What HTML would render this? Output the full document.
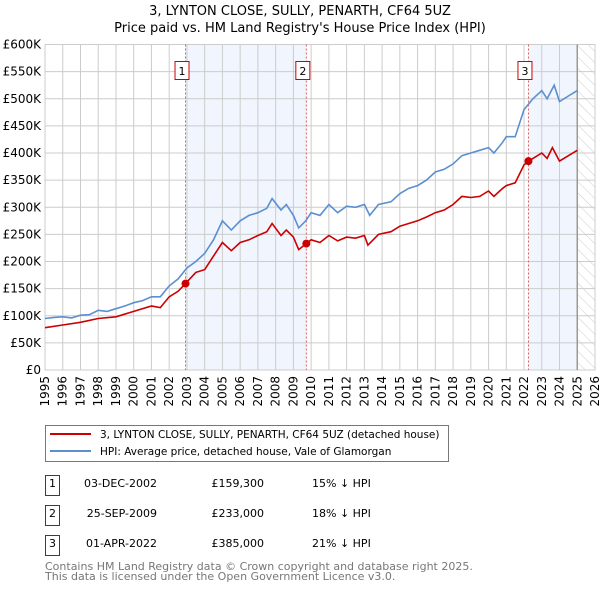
<!DOCTYPE html>
<html><head><meta charset="utf-8"><style>
body{margin:0;background:#fff;width:600px;height:590px;overflow:hidden;font-family:"DejaVu Sans","Liberation Sans",sans-serif}
svg text{font-family:"DejaVu Sans","Liberation Sans",sans-serif}
</style></head><body>
<svg id="c" width="600" height="590">
<defs><pattern id="hatch" width="8" height="8" patternUnits="userSpaceOnUse" patternTransform="rotate(-45)"><line x1="0" y1="0" x2="0" y2="8" stroke="#ccc" stroke-width="1"/></pattern></defs>
<text x="300" y="15" text-anchor="middle" font-size="13">3, LYNTON CLOSE, SULLY, PENARTH, CF64 5UZ</text>
<text x="300" y="32" text-anchor="middle" font-size="13">Price paid vs. HM Land Registry's House Price Index (HPI)</text>
<g id="plot"></g>
<g>
<rect x="45.5" y="425.5" width="403" height="36" fill="#fff" stroke="#777"/>
<line x1="50" y1="434" x2="91" y2="434" stroke="#cc0000" stroke-width="2"/>
<text x="100" y="438" font-size="10.5">3, LYNTON CLOSE, SULLY, PENARTH, CF64 5UZ (detached house)</text>
<line x1="50" y1="451" x2="91" y2="451" stroke="#5b8fd0" stroke-width="2"/>
<text x="100" y="455" font-size="10.5">HPI: Average price, detached house, Vale of Glamorgan</text>
</g>
<g font-size="11">
<rect x="45.5" y="475.5" width="14" height="20" fill="#fff" stroke="#cc0000"/><text x="52.5" y="487" text-anchor="middle">1</text>
<text x="157" y="487" text-anchor="end">03-DEC-2002</text><text x="264" y="487" text-anchor="end">£159,300</text><text x="312" y="487">15% ↓ HPI</text>
<rect x="45.5" y="505.5" width="14" height="20" fill="#fff" stroke="#cc0000"/><text x="52.5" y="517" text-anchor="middle">2</text>
<text x="157" y="517" text-anchor="end">25-SEP-2009</text><text x="264" y="517" text-anchor="end">£233,000</text><text x="312" y="517">18% ↓ HPI</text>
<rect x="45.5" y="535.5" width="14" height="20" fill="#fff" stroke="#cc0000"/><text x="52.5" y="547" text-anchor="middle">3</text>
<text x="157" y="547" text-anchor="end">01-APR-2022</text><text x="264" y="547" text-anchor="end">£385,000</text><text x="312" y="547">21% ↓ HPI</text>
</g>
<text x="45" y="570" font-size="11" fill="#777">Contains HM Land Registry data © Crown copyright and database right 2025.</text>
<text x="45" y="580" font-size="11" fill="#777">This data is licensed under the Open Government Licence v3.0.</text>
</svg>
<script>
const hpiX=[1995,1995.5,1996,1996.5,1997,1997.5,1998,1998.5,1999,1999.5,2000,2000.5,2001,2001.5,2002,2002.5,2003,2003.5,2004,2004.5,2005,2005.5,2006,2006.5,2007,2007.5,2007.8,2008.3,2008.6,2009,2009.3,2009.7,2010,2010.5,2011,2011.5,2012,2012.5,2013,2013.3,2013.8,2014.5,2015,2015.5,2016,2016.5,2017,2017.5,2018,2018.5,2019,2019.5,2020,2020.3,2020.8,2021,2021.5,2022,2022.5,2023,2023.3,2023.7,2024,2024.5,2025];
const hpiY=[95,97,98,96,101,102,110,108,113,118,124,128,135,135,155,168,188,200,215,240,275,258,275,285,290,298,316,295,305,285,262,275,290,285,305,290,302,300,305,285,305,310,325,335,340,350,365,370,380,395,400,405,410,400,420,430,430,480,500,515,500,525,495,505,515];
const ppX=[1995,1996,1997,1998,1999,2000,2001,2001.5,2002,2002.5,2002.92,2003.5,2004,2004.5,2005,2005.5,2006,2006.5,2007,2007.5,2007.8,2008.3,2008.6,2009,2009.3,2009.73,2010,2010.5,2011,2011.5,2012,2012.5,2013,2013.2,2013.8,2014.5,2015,2015.5,2016,2016.5,2017,2017.5,2018,2018.5,2019,2019.5,2020,2020.3,2020.8,2021,2021.5,2022,2022.25,2022.5,2023,2023.3,2023.6,2024,2024.5,2025];
const ppY=[78,83,88,95,98,108,118,115,135,145,159.3,180,185,210,235,220,235,240,248,255,270,248,258,245,222,233,240,235,248,238,245,243,248,230,250,255,265,270,275,282,290,295,305,320,318,320,330,320,335,340,345,378,385,390,400,390,410,385,395,405];
const saleX=[2002.92,2009.73,2022.25];
const saleY=[159.3,233,385];
const saleLabels=["1","2","3"];
const yTicks=[0,50,100,150,200,250,300,350,400,450,500,550,600];
const yTickLabels=["£0","£50K","£100K","£150K","£200K","£250K","£300K","£350K","£400K","£450K","£500K","£550K","£600K"];
const xTicks=[1995,1996,1997,1998,1999,2000,2001,2002,2003,2004,2005,2006,2007,2008,2009,2010,2011,2012,2013,2014,2015,2016,2017,2018,2019,2020,2021,2022,2023,2024,2025,2026];

const L=45,R=595,T=44.5,B=370;
const sx=v=>L+(v-1995)/(2026-1995)*(R-L);
const sy=v=>B-v/600*(B-T);
const NS='http://www.w3.org/2000/svg';
const g=document.getElementById('plot');
function mk(t,a,p){const e=document.createElementNS(NS,t);for(const k in a)e.setAttribute(k,a[k]);(p||g).appendChild(e);return e;}
let e=mk('rect',{x:sx(saleX[0]),y:T,width:sx(saleX[1])-sx(saleX[0]),height:B-T,fill:'#eef3fc',opacity:0.8});


e=mk('rect',{x:sx(saleX[2]),y:T,width:sx(2025)-sx(saleX[2]),height:B-T,fill:'#eef3fc',opacity:0.8});


e=mk('rect',{x:sx(2025),y:T,width:sx(2026)-sx(2025),height:B-T,fill:'url(#hatch)'});


yTicks.forEach((v,i)=>{
  let l=mk('line',{x1:L,x2:R,y1:sy(v),y2:sy(v),stroke:'#ccc'});
  
  
  let t=mk('text',{x:L-4,y:sy(v)+4,'text-anchor':'end','font-size':12});
  t.textContent=yTickLabels[i];
  
  
});
xTicks.forEach(v=>{
  let l=mk('line',{x1:sx(v),x2:sx(v),y1:T,y2:B,stroke:'#ccc'});
  
  
  let t=mk('text',{x:0,y:0,'text-anchor':'end','font-size':12,transform:`translate(${sx(v)+4},${B+6}) rotate(-90)`});
  t.textContent=v;
  
  
});
e=mk('rect',{x:L,y:T,width:R-L,height:B-T,fill:'none',stroke:'#ccc'});


e=mk('line',{x1:sx(2025),x2:sx(2025),y1:T,y2:B,stroke:'#999',"stroke-width":1.5});


saleX.forEach((v,i)=>{
  let l=mk('line',{x1:sx(v),x2:sx(v),y1:T,y2:B,stroke:'#e06060','stroke-dasharray':'2,2'});
  
  
  let r=mk('rect',{x:sx(v)-10.5,y:61.5,width:14,height:18,fill:'#fff',stroke:'#cc0000'});
  
  
  let t=mk('text',{x:sx(v)-3.5,y:75,'text-anchor':'middle','font-size':11});
  t.textContent=saleLabels[i];
  
  
});
function path(xs,ys){return xs.map((x,i)=>(i?'L':'M')+sx(x).toFixed(1)+','+sy(ys[i]).toFixed(1)).join('');}
e=mk('path',{d:path(hpiX,hpiY),fill:'none',stroke:'#5b8fd0','stroke-width':1.6});


e=mk('path',{d:path(ppX,ppY),fill:'none',stroke:'#cc0000','stroke-width':1.6});


saleX.forEach((v,i)=>{
  let c=mk('circle',{cx:sx(v),cy:sy(saleY[i]),r:4,fill:'#cc0000'});
  
  
});
</script>
</body></html>
